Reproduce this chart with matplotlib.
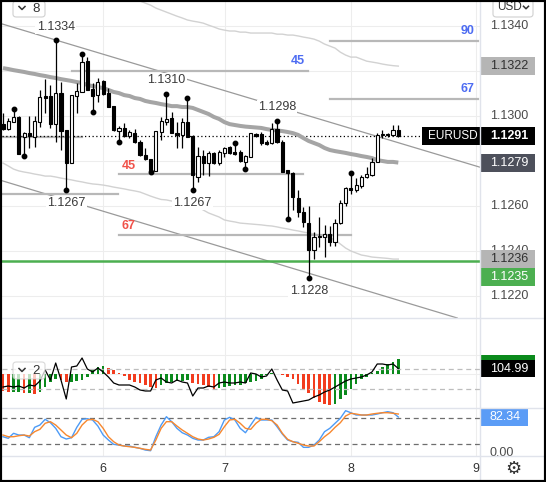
import numpy as np
import matplotlib
matplotlib.use("Agg")
import matplotlib.pyplot as plt
from matplotlib.patches import Rectangle, FancyBboxPatch
from matplotlib.lines import Line2D

plt.rcParams["font.family"] = ["Liberation Sans", "DejaVu Sans"]

# EURUSD hourly candles
opens = [1.12964, 1.12942, 1.12973, 1.12996, 1.12907, 1.12924, 1.12907, 1.12973, 1.13089, 1.13089,
         1.12964, 1.13102, 1.12938, 1.12791, 1.13089, 1.13107, 1.13244, 1.13120, 1.13093, 1.13156,
         1.13102, 1.13044, 1.12933, 1.12947, 1.12911, 1.12924, 1.12884, 1.12827, 1.12809, 1.12756,
         1.12929, 1.12973, 1.12991, 1.12924, 1.12916, 1.12973, 1.12911, 1.12729, 1.12822, 1.12791,
         1.12836, 1.12791, 1.12836, 1.12862, 1.12840, 1.12840, 1.12796, 1.12818, 1.12920, 1.12920,
         1.12884, 1.12880, 1.12942, 1.12884, 1.12760, 1.12747, 1.12636, 1.12573, 1.12524, 1.12404,
         1.12462, 1.12462, 1.12476, 1.12440, 1.12524, 1.12613, 1.12680, 1.12671, 1.12689, 1.12729,
         1.12738, 1.12796, 1.12916, 1.12920, 1.12916, 1.12938]
highs = [1.13013, 1.12991, 1.13031, 1.13000, 1.12929, 1.13000, 1.13000, 1.13116, 1.13164, 1.13138,
         1.13338, 1.13151, 1.12938, 1.13093, 1.13147, 1.13276, 1.13262, 1.13147, 1.13169, 1.13160,
         1.13124, 1.13044, 1.12956, 1.12969, 1.12938, 1.12942, 1.12893, 1.12858, 1.12809, 1.12933,
         1.12996, 1.13100, 1.13018, 1.12973, 1.12991, 1.13080, 1.12916, 1.12862, 1.12849, 1.12844,
         1.12840, 1.12849, 1.12862, 1.12867, 1.12880, 1.12849, 1.12827, 1.12924, 1.12924, 1.12929,
         1.12893, 1.12969, 1.12980, 1.12893, 1.12760, 1.12751, 1.12671, 1.12596, 1.12600, 1.12484,
         1.12551, 1.12516, 1.12511, 1.12542, 1.12627, 1.12684, 1.12747, 1.12724, 1.12738, 1.12773,
         1.12813, 1.12924, 1.12938, 1.12924, 1.12960, 1.12960]
lows = [1.12938, 1.12938, 1.12973, 1.12831, 1.12822, 1.12858, 1.12862, 1.12951, 1.13013, 1.12947,
        1.12884, 1.12849, 1.12671, 1.12791, 1.13013, 1.13107, 1.13116, 1.13018, 1.13062, 1.13093,
        1.13040, 1.12933, 1.12884, 1.12907, 1.12902, 1.12880, 1.12822, 1.12804, 1.12751, 1.12756,
        1.12893, 1.12960, 1.12924, 1.12858, 1.12858, 1.12907, 1.12671, 1.12707, 1.12738, 1.12733,
        1.12787, 1.12782, 1.12818, 1.12831, 1.12827, 1.12796, 1.12764, 1.12818, 1.12907, 1.12871,
        1.12871, 1.12876, 1.12880, 1.12751, 1.12542, 1.12582, 1.12551, 1.12507, 1.12280, 1.12364,
        1.12418, 1.12373, 1.12422, 1.12422, 1.12520, 1.12600, 1.12653, 1.12662, 1.12680, 1.12724,
        1.12733, 1.12796, 1.12902, 1.12907, 1.12911, 1.12907]
closes = [1.12942, 1.12978, 1.12996, 1.12831, 1.12924, 1.12911, 1.12978, 1.13084, 1.13080, 1.12964,
          1.13102, 1.12933, 1.12791, 1.13093, 1.13111, 1.13240, 1.13116, 1.13089, 1.13151, 1.13098,
          1.13040, 1.12938, 1.12947, 1.12911, 1.12929, 1.12884, 1.12827, 1.12809, 1.12751, 1.12933,
          1.12978, 1.12987, 1.12924, 1.12916, 1.12973, 1.12907, 1.12738, 1.12822, 1.12791, 1.12836,
          1.12791, 1.12840, 1.12858, 1.12836, 1.12831, 1.12800, 1.12822, 1.12924, 1.12911, 1.12880,
          1.12876, 1.12942, 1.12884, 1.12751, 1.12747, 1.12640, 1.12573, 1.12529, 1.12404, 1.12462,
          1.12467, 1.12476, 1.12440, 1.12524, 1.12613, 1.12680, 1.12671, 1.12693, 1.12729, 1.12742,
          1.12796, 1.12916, 1.12920, 1.12916, 1.12938, 1.12910]

ma = [1.13213, 1.13209, 1.13204, 1.13200, 1.13196, 1.13191, 1.13187, 1.13182, 1.13178, 1.13173,
      1.13169, 1.13164, 1.13160, 1.13156, 1.13151, 1.13147, 1.13138, 1.13133, 1.13129, 1.13124,
      1.13116, 1.13107, 1.13102, 1.13093, 1.13089, 1.13080, 1.13076, 1.13067, 1.13062, 1.13058,
      1.13053, 1.13049, 1.13044, 1.13044, 1.13040, 1.13040, 1.13036, 1.13027, 1.13018, 1.13009,
      1.12996, 1.12987, 1.12973, 1.12964, 1.12960, 1.12956, 1.12953, 1.12951, 1.12949, 1.12947,
      1.12942, 1.12938, 1.12936, 1.12933, 1.12929, 1.12924, 1.12916, 1.12902, 1.12889, 1.12880,
      1.12871, 1.12858, 1.12849, 1.12844, 1.12840, 1.12836, 1.12831, 1.12827, 1.12822, 1.12818,
      1.12813, 1.12804, 1.12800, 1.12796, 1.12796, 1.12793]
band_up = [np.nan] * 24 + [
    1.13529, 1.13520, 1.13511, 1.13502, 1.13493, 1.13480, 1.13471, 1.13462, 1.13453, 1.13444,
    1.13436, 1.13427, 1.13422, 1.13418, 1.13413, 1.13404, 1.13396, 1.13387, 1.13382, 1.13378,
    1.13378, 1.13373, 1.13373, 1.13369, 1.13369, 1.13369, 1.13369, 1.13369, 1.13364, 1.13364,
    1.13360, 1.13360, 1.13356, 1.13351, 1.13347, 1.13342, 1.13333, 1.13320, 1.13311, 1.13302,
    1.13284, 1.13271, 1.13262, 1.13262, 1.13253, 1.13244, 1.13240, 1.13236, 1.13231, 1.13227,
    1.13224, 1.13222]
band_lo = [1.12791, 1.12778, 1.12764, 1.12756, 1.12751, 1.12747, 1.12742, 1.12738, 1.12733, 1.12733,
           1.12729, 1.12724, 1.12720, 1.12716, 1.12711, 1.12707, 1.12702, 1.12698, 1.12696, 1.12693,
           1.12689, 1.12684, 1.12680, 1.12676, 1.12671, 1.12667, 1.12662, 1.12653, 1.12644, 1.12636,
           1.12629, 1.12627, 1.12622, 1.12618, 1.12616, 1.12613, 1.12604, 1.12596, 1.12582, 1.12569,
           1.12560, 1.12551, 1.12538, 1.12533, 1.12529, 1.12524, 1.12522, 1.12520, 1.12518, 1.12516,
           1.12513, 1.12511, 1.12507, 1.12502, 1.12498, 1.12493, 1.12489, 1.12484, 1.12480, 1.12476,
           1.12471, 1.12467, 1.12458, 1.12449, 1.12431, 1.12413, 1.12400, 1.12391, 1.12382, 1.12378,
           1.12373, 1.12371, 1.12369, 1.12367, 1.12364, 1.12364]

hist = [-0.0017, -0.0018, -0.0018, -0.0018, -0.0019, -0.0019, -0.00195, -0.0018, -0.0013, -0.0008,
        -0.0005, -0.0006, -0.0008, -0.00075, -0.0007, -0.0006, -0.0003, 0.0004, 0.0007, 0.0008,
        0.0006, 0.0004, 0.0001, -0.0002, -0.0006, -0.0008, -0.0009, -0.0011, -0.0013, -0.00135,
        -0.0011, -0.0009, -0.0008, -0.0007, -0.00065, -0.0006, -0.0009, -0.0010, -0.0011, -0.0013,
        -0.0015, -0.0014, -0.0013, -0.0012, -0.0011, -0.00105, -0.0009, -0.0008, -0.0007, -0.0005,
        -0.0001, 0.0001, 0.00005, -0.0001, -0.0003, -0.0005, -0.0010, -0.0016, -0.0019, -0.0024,
        -0.0028, -0.0030, -0.00305, -0.00295, -0.0025, -0.0021, -0.0015, -0.0010, -0.0005, -0.0003,
        0.0001, 0.0003, 0.0007, 0.0010, 0.0012, 0.0015]
cci = [-80, -70, -80, -70, -90, -60, -70, -20, 90, -10,
       160, -10, -200, 120, 130, 210, 100, 70, 110, 70,
       20, -40, -60, -60, -60, -80, -110, -120, -120, -10,
       10, -30, -40, -10, -30, -40, -170, -90, -90, -70,
       -80, -40, -30, -40, -40, -30, -40, 60, 50, 20,
       30, 100, -10, -110, -120, -240, -230, -220, -210, -180,
       -160, -130, -110, -80, -50, -20, 0, 10, 20, 40,
       70, 150, 150, 140, 150, 104.99]
stoch_k = [36.8, 33.1, 44.7, 40.7, 40.7, 34.5, 58.5, 63.8, 77.0, 69.1,
           56.2, 36.8, 31.5, 34.5, 58.5, 77.0, 78.4, 75.4, 61.5, 40.7,
           29.2, 19.2, 17.6, 15.3, 15.3, 12.3, 10.0, 6.1, 4.5, 36.8,
           63.8, 83.0, 71.5, 56.2, 46.0, 40.7, 33.1, 29.2, 29.2, 35.4,
           36.8, 48.4, 75.4, 81.6, 75.4, 56.2, 46.0, 63.8, 81.6, 75.4,
           75.4, 75.4, 59.9, 43.0, 29.2, 25.3, 23.9, 12.3, 12.3, 17.6,
           29.2, 48.4, 56.2, 67.8, 79.3, 96.9, 92.2, 86.9, 86.9, 86.9,
           86.9, 89.2, 92.2, 94.6, 92.2, 82.34]
stoch_d = [40.7, 36.8, 36.8, 39.1, 40.7, 38.4, 48.4, 53.9, 67.8, 71.5,
           63.8, 52.3, 40.7, 34.5, 44.7, 63.8, 75.4, 77.0, 71.5, 56.2,
           36.8, 25.3, 17.6, 15.3, 13.7, 12.3, 10.0, 7.7, 6.1, 29.2,
           56.2, 71.5, 71.5, 61.5, 52.3, 44.7, 36.8, 31.5, 29.2, 31.5,
           35.4, 42.3, 59.9, 75.4, 77.0, 67.8, 56.2, 53.9, 67.8, 77.0,
           77.0, 73.8, 63.8, 44.7, 30.8, 25.3, 21.6, 17.6, 15.3, 15.3,
           25.3, 36.8, 46.0, 58.5, 69.1, 84.6, 90.9, 89.2, 86.9, 86.9,
           89.2, 90.9, 92.2, 92.2, 90.9, 89.2]

day_labels = ["6", "7", "8", "9"]
day_pos = [19.0, 42.1, 66.0, 89.75]
price_ticks = [1.1340, 1.1320, 1.1300, 1.1280, 1.1260, 1.1240, 1.1220]

piv_hi = [2, 10, 15, 31, 35, 44, 52, 66]
piv_lo = [4, 12, 17, 22, 28, 36, 46, 54, 58]
tag_hi = [10, 31, 52]
tag_lo = [12, 36, 58]

trend_top = [(10, 1.13338), (90, 1.12776)]
trend_bot = [(0, 1.12711), (90, 1.12075)]

fib_price = [1.13333, 1.13200, 1.13076, 1.12741, 1.12473, 1.12653, 1.12908]
fib_from = [62.0, 13.1, 62.0, 22.0, 22.0, -0.2, -0.2]
fib_to = [90.1, 57.9, 90.1, 56.9, 66.0, 21.8, 15.0]
fib_text = ["90", "45", "67", "45", "67", "", ""]
fib_side = ["blue", "blue", "blue", "red", "red", "", ""]
support = 1.12354

W, H = 546, 482
fig = plt.figure(figsize=(W / 100, H / 100), dpi=100)
fig.patch.set_facecolor("white")
XL = (-0.19, 90.5)
GRID = "#ededed"
SEP = "#e0e3eb"


def pane(x0, y0, x1, y1):
    a = fig.add_axes([x0 / W, 1 - y1 / H, (x1 - x0) / W, (y1 - y0) / H])
    a.set_axis_off()
    a.set_xlim(*XL)
    return a


def top_px(a, v):
    return H - a.transData.transform((0, v))[1]


def frect(x0, y0, x1, y1, **kw):
    r = Rectangle((x0 / W, 1 - y1 / H), (x1 - x0) / W, (y1 - y0) / H,
                  transform=fig.transFigure, **kw)
    fig.add_artist(r)
    return r


def ftext(x, y, s, **kw):
    return fig.text(x / W, 1 - y / H, s, **kw)


def fline(xs_, ys_, **kw):
    fig.add_artist(Line2D([x / W for x in xs_], [1 - y / H for y in ys_],
                          transform=fig.transFigure, **kw))


def tag(yc, s, fc, tc, x0=480, x1=535, h=18, z=5):
    frect(x0, yc - h / 2, x1, yc + h / 2, fc=fc, ec="none", zorder=z)
    if s:
        ftext(490, yc, s, color=tc, fontsize=9, ha="left", va="center", zorder=z + 0.1)


def chevron(cx, cy, s=3):
    fline([cx - s, cx, cx + s], [cy - s / 2, cy + s / 2, cy - s / 2],
          color="#333333", lw=1.1, zorder=9)


xs = np.arange(len(closes))

# ---- price pane ----
ax = pane(2, 2, 480, 318)
ax.set_ylim(1.12102, 1.13507)
for p in price_ticks:
    ax.axhline(p, color=GRID, lw=0.8, zorder=0)
for d in day_pos:
    ax.axvline(d, color=GRID, lw=0.8, zorder=0)

ax.plot(xs, band_up, color="#d2d2d2", lw=1, zorder=1)
ax.plot(xs, band_lo, color="#d2d2d2", lw=1, zorder=1)
ax.plot(xs, ma, color="#a5a5a5", lw=2.9, zorder=2, solid_capstyle="butt")
ax.axline(trend_top[0], trend_top[1], color="#9a9a9a", lw=0.9, zorder=1)
ax.axline(trend_bot[0], trend_bot[1], color="#9a9a9a", lw=0.9, zorder=1)

for p, a0, a1, t, side in zip(fib_price, fib_from, fib_to, fib_text, fib_side):
    ax.plot([a0, a1], [p, p], color="#b8b8b8", lw=1.6, zorder=1)
    if side == "blue":
        ax.annotate(t, (a1 - 0.6, p), xytext=(0, 7.0), textcoords="offset points",
                    ha="right", va="center", color="#4d6cf2", fontsize=9, fontweight="bold")
    elif side == "red":
        ax.annotate(t, (a0 + 0.5, p), xytext=(0, 6.2), textcoords="offset points",
                    ha="left", va="center", color="#f0524a", fontsize=9, fontweight="bold")

ax.axhline(support, color="#4caf50", lw=1.8, zorder=1.5)
ax.axhline(closes[-1], color="black", lw=0.9, ls=(0, (1, 2)), zorder=1.5)

ax.vlines(xs, lows, highs, color="black", lw=0.9, zorder=3)
for i in xs:
    o, c = opens[i], closes[i]
    bot = min(o, c)
    hgt = max(abs(c - o), 0.00002)
    ax.add_patch(Rectangle((i - 0.3, bot), 0.6, hgt, fc="white" if c >= o else "black",
                           ec="black", lw=0.8, zorder=4))

ax.plot(piv_hi, [highs[i] for i in piv_hi], "o", ms=3.2, color="black", zorder=5)
ax.plot(piv_lo, [lows[i] for i in piv_lo], "o", ms=3.2, color="black", zorder=5)
lbl_box = dict(boxstyle="square,pad=0.1", fc="white", ec="none")
for i in tag_hi:
    ax.annotate(f"{highs[i]:.4f}", (i, highs[i]), xytext=(0, 9.5), textcoords="offset points",
                ha="center", va="center", fontsize=9, color="#3a3a3a", bbox=lbl_box, zorder=6)
for i in tag_lo:
    ax.annotate(f"{lows[i]:.4f}", (i, lows[i]), xytext=(0, -9.5), textcoords="offset points",
                ha="center", va="center", fontsize=9, color="#3a3a3a", bbox=lbl_box, zorder=6)

# ---- histogram + CCI pane ----
ax2 = pane(2, 318, 480, 408)
ax2.set_ylim(-0.0034, 0.0056)
for d in day_pos:
    ax2.axvline(d, color=GRID, lw=0.8, zorder=0)
ax2.axhline(0, color=GRID, lw=0.8, zorder=0)
cols = ["#f23c1e"] + ["#0b8a1c" if hist[i] >= hist[i - 1] else "#f23c1e" for i in range(1, len(hist))]
ax2.bar(xs, hist, width=0.5, color=cols, zorder=2)

ax2b = ax2.twinx()
ax2b.set_axis_off()
ax2b.set_xlim(*XL)
ax2b.set_ylim(-290, 610)
ax2b.axhline(240, color=GRID, lw=0.8, zorder=0)
for lv in (100, -100):
    ax2b.axhline(lv, color="#bdbdbd", lw=0.9, ls=(0, (4, 3)), zorder=1)
ax2b.plot(xs, cci, color="black", lw=0.9, zorder=3)

# ---- stochastic pane ----
ax3 = pane(2, 408, 480, 456)
ax3.set_ylim(-7.7, 103.1)
for d in day_pos:
    ax3.axvline(d, color=GRID, lw=0.8, zorder=0)
for lv in (80, 20):
    ax3.axhline(lv, color="#6e6e6e", lw=0.9, ls=(0, (4, 3)), zorder=1)
ax3.plot(xs, stoch_k, color="#4d9bf6", lw=1.0, zorder=2)
ax3.plot(xs, stoch_d, color="#f7882f", lw=1.0, zorder=3)
for d, t in zip(day_pos, day_labels):
    ax3.text(d, -0.27, t, transform=ax3.get_xaxis_transform(), ha="center", va="center",
             fontsize=9, color="#333333")

# ---- right scale ----
y_last = top_px(ax, closes[-1])
y_up = top_px(ax, band_up[-1])
y_ma = top_px(ax, ma[-1])
y_lo = top_px(ax, band_lo[-1])
taken = [y_up, y_last, y_ma, y_lo, y_lo + 18]
for p in price_ticks:
    yp = top_px(ax, p)
    if min(abs(yp - t) for t in taken) < 7:
        continue  # hidden behind a value tag
    ftext(490, yp, f"{p:.4f}", fontsize=9, color="#4a4a4a", ha="left", va="center", zorder=4)
tag(y_up, f"{band_up[-1]:.4f}", "#b5b5b5", "#303030")
frect(422, y_last - 9, 535, y_last + 9, fc="black", ec="none", zorder=5)
ftext(428, y_last, "EURUSD", fontsize=8.5, color="white", ha="left", va="center", zorder=6)
ftext(490, y_last, f"{closes[-1]:.4f}", fontsize=9, color="white", ha="left",
      va="center", zorder=6, fontweight="bold")
tag(y_ma, f"{ma[-1]:.4f}", "#4d505b", "white")
tag(y_lo, f"{band_lo[-1]:.4f}", "#b5b5b5", "#303030")
tag(y_lo + 18, f"{support:.4f}", "#4caf50", "white")

y_cci = top_px(ax2b, cci[-1])
tag(y_cci - 5, "", "#0b8a1c", "white", h=18)
tag(y_cci, f"{cci[-1]:.2f}", "black", "white", h=17, z=5.5)
tag(top_px(ax3, stoch_k[-1]), f"{stoch_k[-1]:.2f}", "#5b9cf6", "white", x0=480, x1=528)
ftext(490, top_px(ax3, 0), "0.00", fontsize=9, color="#4a4a4a", ha="left", va="center", zorder=3)
frect(480, 456, 546, 482, fc="white", ec="none", zorder=3.5)

# separators
for y in (318, 408, 456):
    fline([0, W], [y, y], color=SEP, lw=1, zorder=7)
fline([480, 480], [0, H], color=SEP, lw=1, zorder=7)

# widgets
fig.add_artist(FancyBboxPatch((13 / W, 1 - 17 / H), 32 / W, 16 / H, boxstyle="round,pad=0,rounding_size=0.006",
                              transform=fig.transFigure, fc="white", ec="#d0d0d0", lw=0.8, zorder=8))
chevron(22, 8)
ftext(36, 8.5, "8", fontsize=9.5, color="#333333", ha="center", va="center", zorder=9)
fig.add_artist(FancyBboxPatch((13 / W, 1 - 379 / H), 32 / W, 17 / H, boxstyle="round,pad=0,rounding_size=0.006",
                              transform=fig.transFigure, fc="white", ec="#cccccc", lw=0.8, alpha=0.75, zorder=8))
chevron(22, 370)
ftext(36, 370.5, "2", fontsize=9.5, color="#333333", ha="center", va="center", zorder=9)
fig.add_artist(FancyBboxPatch((493 / W, 1 - 17 / H), 40 / W, 17 / H, boxstyle="round,pad=0,rounding_size=0.006",
                              transform=fig.transFigure, fc="white", ec="#d0d0d0", lw=0.8, zorder=8))
ftext(497, 7.5, "USD", fontsize=8.5, color="#333333", ha="left", va="center", zorder=9)
chevron(526, 7.5, s=2.5)
ftext(513, 469, "\u2699", fontsize=13, color="#333333", ha="center", va="center",
      family="DejaVu Sans", zorder=9)

frect(0, 0, W, H, fill=False, ec="black", lw=3, zorder=10)

fig.savefig("out.png", dpi=100)
